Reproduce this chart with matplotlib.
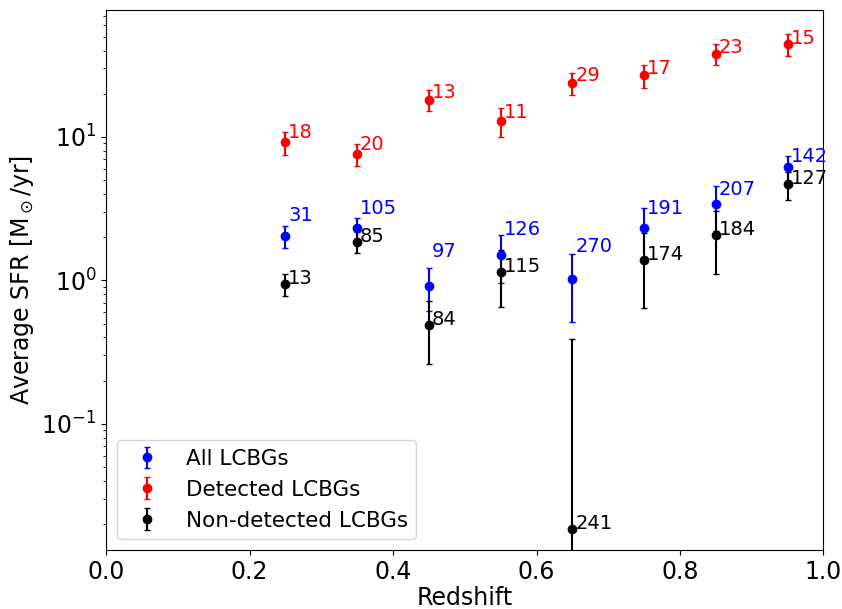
import numpy as np
import matplotlib
matplotlib.use("Agg")
import matplotlib.pyplot as plt

# redshift bins
z = [0.25, 0.35, 0.45, 0.55, 0.65, 0.75, 0.85, 0.95]

# all LCBGs
sfr_all = [2.04, 2.33, 0.91, 1.51, 1.02, 2.33, 3.39, 6.16]
err_all = [0.37, 0.40, 0.30, 0.55, 0.51, 0.88, 1.18, 1.23]
n_all = [31, 105, 97, 126, 270, 191, 207, 142]

# detected LCBGs
sfr_det = [9.2, 7.6, 18.2, 13.0, 23.9, 26.8, 37.8, 44.2]
err_det = [1.7, 1.35, 3.1, 3.0, 4.2, 4.8, 6.3, 7.8]
n_det = [18, 20, 13, 11, 29, 17, 23, 15]

# non-detected LCBGs
sfr_non = [0.94, 1.85, 0.49, 1.14, 0.0186, 1.39, 2.07, 4.67]
err_non = [0.16, 0.31, 0.23, 0.49, 0.37, 0.75, 0.96, 1.03]
n_non = [13, 85, 84, 115, 241, 174, 184, 127]

plt.rcParams['font.size'] = 17

fig = plt.figure(figsize=(8.42, 6.09), dpi=100)
ax = fig.add_axes([0.126, 0.097, 0.852, 0.887])

ax.errorbar(z, sfr_all, yerr=err_all, fmt='o', color='blue', capsize=2, label='All LCBGs')
ax.errorbar(z, sfr_det, yerr=err_det, fmt='o', color='red', capsize=2, label='Detected LCBGs')
ax.errorbar(z, sfr_non, yerr=err_non, fmt='o', color='black', capsize=2, label='Non-detected LCBGs')

# number of galaxies in each bin
for i in range(len(z)):
    ax.text(z[i] + 0.004, sfr_all[i] + 0.55, str(n_all[i]), color='blue', fontsize=14)
    ax.text(z[i] + 0.004, sfr_det[i] + 0.55, str(n_det[i]), color='red', fontsize=14)
    ax.text(z[i] + 0.004, sfr_non[i], str(n_non[i]), color='black', fontsize=14)

ax.set_yscale('log')
ax.set_xlim(0, 1)
ax.set_ylim(0.0132, 77)
ax.set_xlabel('Redshift', labelpad=2)
ax.set_ylabel(r'Average SFR [M$_\odot$/yr]')
ax.legend(loc='lower left', fontsize=15.5)

fig.savefig('out.png', dpi=100)
